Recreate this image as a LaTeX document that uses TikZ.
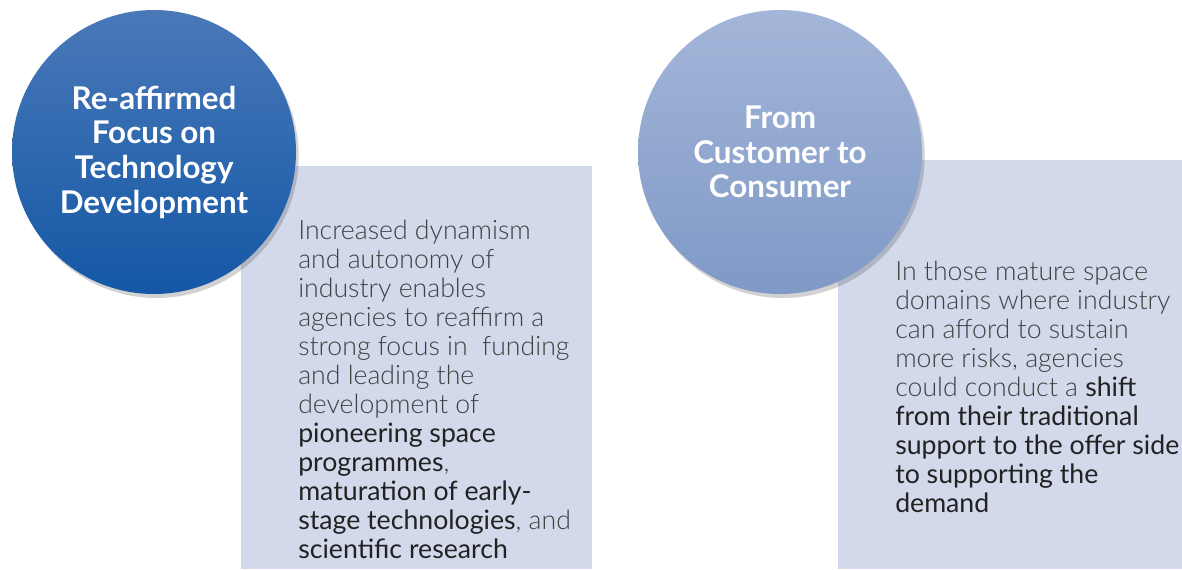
\documentclass[tikz,border=0pt]{standalone}
\usepackage{fontspec}
\setmainfont{Lato}
\newfontfamily\lightfont{Lato Light}
\usepackage{xcolor}
\usetikzlibrary{shadows}

\definecolor{boxfill}{RGB}{209,217,234}
\definecolor{darkblue}{RGB}{20,88,166}
\definecolor{midblue}{RGB}{74,120,184}
\definecolor{paleblue}{RGB}{164,182,217}
\definecolor{greyblue}{RGB}{127,153,198}
\definecolor{bodytext}{RGB}{64,64,64}
\definecolor{strongtext}{RGB}{34,34,34}

% darker, heavier words inside the light body text
\newcommand{\keyword}[1]{{\normalfont\color{strongtext}#1}}

\tikzset{
  bubble/.style={circle, minimum size=213pt, inner sep=0pt, text=white, align=center,
    font=\fontsize{23.5}{26}\selectfont\bfseries,
    drop shadow={shadow xshift=2pt, shadow yshift=-3pt, opacity=0.25, fill=black!70}},
  bodytxt/.style={anchor=north west, inner sep=0pt, align=left, text=bodytext,
    font=\fontsize{20}{21.75}\selectfont\lightfont}
}

\begin{document}
\begin{tikzpicture}[x=0.75pt,y=0.75pt,yscale=-1,xscale=1]
\path[use as bounding box] (0,0) rectangle (1182,569);

%Shape: Rectangle
        \fill [boxfill] (241,166) rectangle (592,569);
%Shape: Rectangle
        \fill [boxfill] (838,160) rectangle (1182,569);

%Shape: Circle
        \node [bubble, top color=midblue, bottom color=darkblue] (techdev) at (154,152)
          {Re-affirmed\\Focus on\\Technology\\Development};
%Shape: Circle
        \node [bubble, top color=paleblue, bottom color=greyblue] (consumer) at (780,152)
          {From\\Customer to\\Consumer};

% Text Node
        \node [bodytxt] (techtext) at (298,220)
          {Increased dynamism\\
           and autonomy of\\
           industry enables\\
           agencies to reaffirm a\\
           strong focus in\ \ funding\\
           and leading the\\
           development of\\
           \keyword{pioneering space}\\
           \keyword{programmes},\\
           \keyword{maturation of early-}\\
           \keyword{stage technologies}, and\\
           \keyword{scientific research}};
% Text Node
        \node [bodytxt] (consumertext) at (895,261)
          {In those mature space\\
           domains where industry\\
           can afford to sustain\\
           more risks, agencies\\
           could conduct a \keyword{shift}\\
           \keyword{from their traditional}\\
           \keyword{support to the offer side}\\
           \keyword{to supporting the}\\
           \keyword{demand}};

\end{tikzpicture}
\end{document}
